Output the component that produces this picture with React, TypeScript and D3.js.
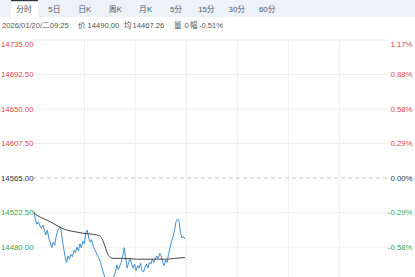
import React from "react";
import * as d3 from "d3";

const tabs = ["分时", "5日", "日K", "周K", "月K", "5分", "15分", "30分", "60分"];
const infoParts = ["2026/01/20/二09:25", "价", "14490.00", "均", "14467.26", "量", "0", "幅", "-0.51%"];
const infoX = [2, 78, 87.5, 124, 132.5, 174, 184.5, 190, 199];

const baseValue = 14565;
const priceTicks = [14735, 14692.5, 14650, 14607.5, 14565, 14522.5, 14480, 14437.5];
const pctTicks = ["1.17%", "0.88%", "0.58%", "0.29%", "0.00%", "-0.29%", "-0.58%", "-0.88%"];

// one price per minute from the open
const priceValues = [
  14524, 14513, 14508, 14511, 14506, 14503, 14507, 14501, 14495, 14501,
  14491, 14485, 14479, 14486, 14482, 14493, 14500, 14503, 14505, 14491,
  14479, 14468, 14461, 14469, 14465, 14471, 14468, 14476, 14473, 14480,
  14475, 14484, 14479, 14487, 14484, 14497, 14501, 14491, 14486, 14489,
  14481, 14477, 14473, 14469, 14466, 14461, 14454, 14448, 14442, 14436,
  14432, 14435, 14429, 14440, 14444, 14449, 14458, 14452, 14457, 14461,
  14469, 14479, 14466, 14454, 14461, 14466, 14459, 14454, 14459, 14451,
  14457, 14454, 14460, 14451, 14449, 14455, 14459, 14454, 14461, 14459,
  14465, 14461, 14465, 14469, 14466, 14472, 14469, 14461, 14457, 14464,
  14461, 14472, 14479, 14487, 14493, 14501, 14511, 14514, 14513, 14498,
  14491, 14493, 14490,
];

const avgMinutes = [0, 2, 5, 9, 11, 15, 19, 22, 27, 33, 38, 42, 45, 46, 47, 48, 49, 50, 51, 53, 60, 70, 85, 90, 95, 102];
const avgValues = [14522, 14519, 14516, 14513, 14511, 14507, 14503, 14501, 14499, 14497, 14496, 14495, 14493, 14490, 14486, 14481, 14475, 14471, 14468, 14466, 14466, 14465, 14465, 14465, 14466, 14467];

const W = 415;
const H = 277;
const FONT = "'Liberation Sans', Arial, 'Noto Sans CJK SC', sans-serif";
const RED = "#dc4a3e";
const GREEN = "#3ea24e";
const DARK = "#333";

export default function App() {
  const plotL = 33;
  const plotR = 389;
  const y = d3.scaleLinear().domain([14735, 14395]).range([40, 316]);
  const x = d3.scaleLinear().domain([0, 240]).range([34, 389]);
  const gx = d3.scaleLinear().domain([0, 7]).range([33.3, 390.3]);
  const tabX = d3.scaleLinear().domain([0, 1]).range([24, 54.4]);

  const priceLine = d3
    .line<number>()
    .x((_, i) => x(i))
    .y((d) => y(d))(priceValues) as string;
  const avgLine = d3
    .line<number>()
    .x((_, i) => x(avgMinutes[i]))
    .y((d) => y(d))
    .curve(d3.curveMonotoneX)(avgValues) as string;

  const colorFor = (v: number) => (v > baseValue ? RED : v < baseValue ? GREEN : DARK);
  const visible = (v: number) => y(v) + 4 < H;

  return (
    <svg
      width={W}
      height={H}
      style={{ position: "absolute", left: 0, top: 0, background: "#fff" }}
      fontFamily={FONT}
    >
      <rect x={0} y={0} width={W} height={17} fill="#edf2f9" />
      <rect x={11} y={0} width={27} height={17} fill="#fff" />
      <rect x={11} y={0} width={27} height={1.2} fill="#2b3440" />
      {tabs.map((t, i) => (
        <text key={t} x={tabX(i)} y={11.5} fontSize={7.8} fill="#4a5566" textAnchor="middle">
          {t}
        </text>
      ))}
      {infoParts.map((t, i) => (
        <text key={i} x={infoX[i]} y={28} fontSize={7.6} fill="#555">
          {t}
        </text>
      ))}

      {d3.range(1, 7).map((i) => (
        <line key={"v" + i} x1={gx(i)} x2={gx(i)} y1={40} y2={H} stroke="#eeeeee" strokeWidth={1} />
      ))}
      {priceTicks.map((v) =>
        v === baseValue ? (
          <line key={v} x1={plotL} x2={plotR - 1} y1={y(v)} y2={y(v)} stroke="#b5b5b5" strokeDasharray="4,3" strokeWidth={0.8} />
        ) : (
          <line key={v} x1={plotL} x2={plotR} y1={y(v)} y2={y(v)} stroke="#eeeeee" strokeWidth={1} />
        )
      )}
      {priceTicks.filter(visible).map((v, i) => (
        <text
          key={"l" + v}
          x={1}
          y={y(v) + (i === 0 ? 4 : 0)}
          dy="0.35em"
          fontSize={7.8}
          fill={colorFor(v)}
        >
          {v.toFixed(2)}
        </text>
      ))}
      {priceTicks.filter(visible).map((v, i) => (
        <text
          key={"r" + v}
          x={412.5}
          y={y(v) + (i === 0 ? 4 : 0)}
          dy="0.35em"
          fontSize={7.8}
          textAnchor="end"
          fill={colorFor(v)}
        >
          {pctTicks[i]}
        </text>
      ))}

      <path d={priceLine} fill="none" stroke="#3f8fcf" strokeWidth={1} strokeLinejoin="round" />
      <path d={avgLine} fill="none" stroke="#444" strokeWidth={1} />
    </svg>
  );
}
